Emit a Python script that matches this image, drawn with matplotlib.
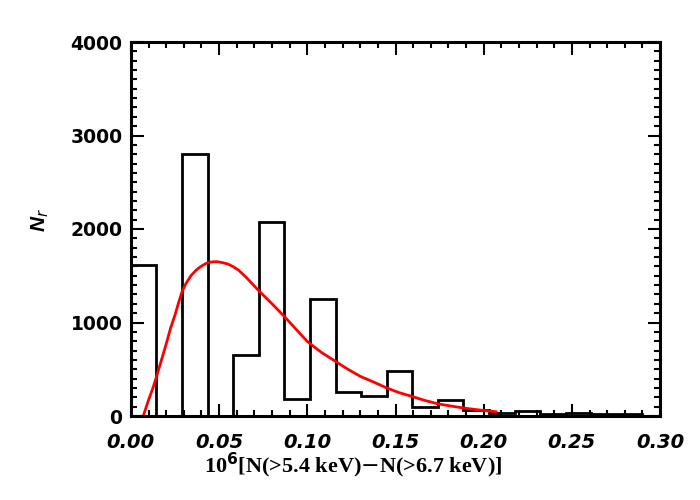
import numpy as np
import matplotlib.pyplot as plt
from matplotlib.ticker import MultipleLocator

# histogram counts (bin width ~0.0145 starting at 0)
bin_width = 0.0145
counts = [1620, 0, 2800, 0, 655, 2070, 180, 1250, 260, 210,
          485, 95, 175, 60, 35, 55, 25, 30, 25, 20]
edges = np.arange(len(counts) + 1) * bin_width

# fitted red curve
fit_x = [0.007, 0.010, 0.0125, 0.0146, 0.0175, 0.020, 0.0225, 0.025, 0.027, 0.029,
         0.031, 0.034, 0.037, 0.039, 0.041, 0.043, 0.045, 0.047, 0.049, 0.052,
         0.055, 0.058, 0.061, 0.065, 0.072, 0.080, 0.087, 0.094, 0.100, 0.108,
         0.116, 0.123, 0.130, 0.138, 0.145, 0.152, 0.159, 0.166, 0.174, 0.181,
         0.188, 0.195, 0.201, 0.207]
fit_y = [0, 170, 300, 425, 610, 770, 940, 1080, 1210, 1330,
         1410, 1500, 1560, 1590, 1615, 1635, 1645, 1650, 1650, 1640,
         1625, 1597, 1560, 1490, 1350, 1200, 1064, 920, 797, 680,
         584, 500, 424, 360, 300, 250, 211, 170, 130, 108,
         87, 70, 57, 45]

xticks = [0.00, 0.05, 0.10, 0.15, 0.20, 0.25, 0.30]
yticks = [0, 1000, 2000, 3000, 4000]

fig = plt.figure(figsize=(7, 5), dpi=100)
ax = fig.add_axes([0.187, 0.168, 0.756, 0.748])

ax.stairs(counts, edges, baseline=0, color='black', lw=2)
ax.plot(fit_x, fit_y, color='red', lw=2)

ax.set_xlim(0, 0.30)
ax.set_ylim(0, 4000)
ax.set_xticks(xticks)
ax.set_yticks(yticks)
ax.set_xticklabels([f"{t:.2f}" for t in xticks], fontsize=14, fontweight='bold',
                   fontstyle='italic', family='DejaVu Sans')
ax.set_yticklabels([str(t) for t in yticks], fontsize=13.5, fontweight='bold',
                   family='DejaVu Sans')
ax.xaxis.set_minor_locator(MultipleLocator(0.01))
ax.yaxis.set_minor_locator(MultipleLocator(100))

# IDL look: ticks inside on all sides
ax.tick_params(which='both', direction='in', top=True, right=True, width=1.5)
ax.tick_params(which='major', length=9)
ax.tick_params(axis='x', which='major', pad=12)
ax.tick_params(axis='y', which='major', pad=6)
ax.tick_params(which='minor', length=4.5)
for s in ax.spines.values():
    s.set_linewidth(2.2)

ax.set_xlabel(r"10$^{\mathbf{6}}$[N(>5.4 keV)$-$N(>6.7 keV)]", fontsize=16,
              family='Liberation Serif', fontweight='bold', va='center')
ax.xaxis.set_label_coords(0.42, -0.131)
ax.set_ylabel("N$_r$", fontsize=15, fontstyle='italic', fontweight='bold',
              family='Liberation Sans', va='center')
ax.yaxis.set_label_coords(-0.172, 0.524)

fig.savefig("out.png", dpi=100)
